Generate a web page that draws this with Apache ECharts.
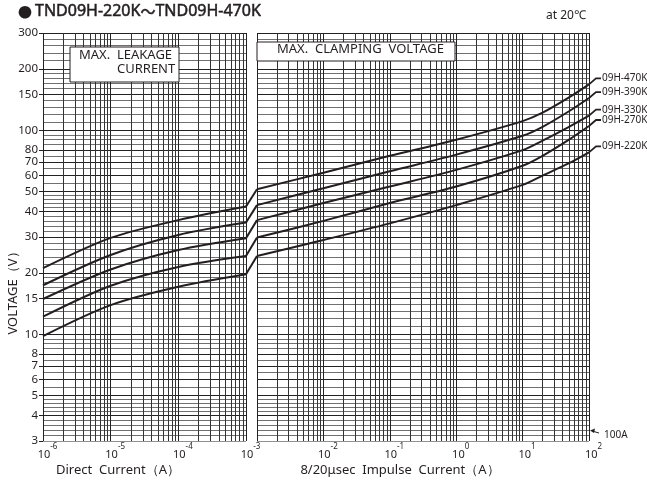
<!DOCTYPE html>
<html>
<head>
<meta charset="utf-8">
<script src="https://cdn.jsdelivr.net/npm/echarts@6/dist/echarts.min.js"></script>
<style>
html, body { margin: 0; padding: 0; background: #fff; }
#main { width: 647px; height: 482px; }
</style>
</head>
<body>
<div id="main"></div>
<script>
var ink = '#231f20';
var font = 'Noto Sans';

var names = ['09H-470K', '09H-390K', '09H-330K', '09H-270K', '09H-220K'];

// max. leakage current (direct current, A)
var dcCurrent = [1e-6, 1e-5, 1e-4, 1e-3];
var dc470 = [21.1, 29.7, 36.3, 42.3];
var dc390 = [17.4, 24.5, 30.7, 35.3];
var dc330 = [14.9, 20.8, 25.9, 29.6];
var dc270 = [12.2, 17.3, 21.4, 24.2];
var dc220 = [9.8, 13.9, 17.1, 19.7];

// max. clamping voltage (8/20us impulse current, A)
var ipCurrent = [1e-3, 1e-2, 1e-1, 1, 10, 20, 50, 100];
var ip470 = [51.4, 62, 75, 90, 111, 122, 145, 168];
var ip390 = [43, 52, 63, 76, 94, 104, 124, 144];
var ip330 = [36.3, 44, 53, 64, 80, 89, 104, 118];
var ip270 = [29.8, 36, 44, 53, 67, 75, 90, 105];
var ip220 = [24.2, 29, 35, 43, 54, 60, 69, 78];

var yLabels = [3, 4, 5, 6, 7, 8, 10, 15, 20, 30, 40, 50, 60, 70, 80, 100, 150, 200, 300];

var dcSets = [dc470, dc390, dc330, dc270, dc220];
var ipSets = [ip470, ip390, ip330, ip270, ip220];

function pairs(xs, ys) {
    var out = [];
    for (var i = 0; i < xs.length; i++) out.push([xs[i], ys[i]]);
    return out;
}

// graph paper
var ySteps = [[3, 5, 0.2], [5, 10, 0.5], [10, 20, 1], [20, 50, 2], [50, 100, 5], [100, 200, 10], [200, 300, 20]];

function paper(idx, d0, d1) {
    var x0 = Math.pow(10, d0), x1 = Math.pow(10, d1);
    var lines = [];
    ySteps.forEach(function (s) {
        for (var v = s[0]; v < s[1] + 1e-9; v += s[2]) {
            var r = Math.round(v * 10) / 10;
            var major = yLabels.indexOf(r) >= 0;
            lines.push({ coords: [[x0, r], [x1, r]], lineStyle: { color: major ? '#222' : '#707070', width: 1 } });
        }
    });
    for (var d = d0; d <= d1; d++) {
        for (var m = 1; m <= 9; m++) {
            if (d === d1 && m > 1) break;
            var x = m * Math.pow(10, d);
            lines.push({ coords: [[x, 3], [x, 300]], lineStyle: { color: m === 1 ? '#222' : '#333', width: 1 } });
        }
    }
    return {
        type: 'lines', coordinateSystem: 'cartesian2d', xAxisIndex: idx, yAxisIndex: idx,
        silent: true, animation: false, z: 1, data: lines,
        lineStyle: { color: '#333', width: 1, opacity: 1, curveness: 0 }
    };
}

function xLabel(v) {
    var e = Math.round(Math.log10(v));
    return '{b|10}{s|' + e + '}';
}
var xRich = {
    b: { fontSize: 11, fontFamily: font, color: ink, lineHeight: 17, verticalAlign: 'bottom' },
    s: { fontSize: 8, fontFamily: font, color: ink, lineHeight: 17, verticalAlign: 'top' }
};

var chart = echarts.init(document.getElementById('main'), null, { renderer: 'canvas' });

var series = [paper(0, -6, -3), paper(2, -3, 2)];
for (var k = 0; k < 5; k++) {
    series.push({
        type: 'line', name: names[k], xAxisIndex: 0, yAxisIndex: 0,
        data: pairs(dcCurrent, dcSets[k]), smooth: 0.3, showSymbol: false,
        lineStyle: { color: ink, width: 2 }, z: 5, animation: false
    });
    series.push({
        type: 'line', name: names[k], xAxisIndex: 1, yAxisIndex: 1,
        data: [[0, dcSets[k][dcSets[k].length - 1]], [1, ipSets[k][0]]],
        showSymbol: false, lineStyle: { color: ink, width: 2 }, z: 5, animation: false
    });
    series.push({
        type: 'line', name: names[k], xAxisIndex: 2, yAxisIndex: 2,
        data: pairs(ipCurrent, ipSets[k]), smooth: 0.3, showSymbol: false,
        lineStyle: { color: ink, width: 2 }, z: 5, animation: false
    });
}

var hiddenY = { type: 'log', logBase: 10, min: 3, max: 300, show: false };

chart.setOption({
    backgroundColor: '#fff',
    animation: false,
    grid: [
        { left: 43, top: 33, width: 203, height: 408, outerBoundsMode: 'none' },
        { left: 246, top: 33, width: 11, height: 408, outerBoundsMode: 'none' },
        { left: 257, top: 33, width: 332, height: 408, outerBoundsMode: 'none' }
    ],
    xAxis: [
        {
            type: 'log', logBase: 10, min: 1e-6, max: 1e-3, gridIndex: 0,
            axisLine: { show: false }, axisTick: { show: false }, splitLine: { show: false },
            axisLabel: { formatter: xLabel, rich: xRich, margin: 2, padding: [0, 0, 0, 9] }
        },
        { type: 'value', min: 0, max: 1, gridIndex: 1, show: false },
        {
            type: 'log', logBase: 10, min: 1e-3, max: 1e2, gridIndex: 2,
            axisLine: { show: false }, axisTick: { show: false }, splitLine: { show: false },
            axisLabel: { formatter: xLabel, rich: xRich, margin: 2, padding: [0, 0, 0, 9], showMinLabel: false }
        }
    ],
    yAxis: [
        {
            type: 'log', logBase: 10, min: 3, max: 300, gridIndex: 0,
            axisLine: { show: false }, splitLine: { show: false },
            axisTick: { show: true, length: 4, customValues: yLabels, lineStyle: { color: ink } },
            axisLabel: { customValues: yLabels, margin: 5, fontSize: 11.5, fontFamily: font, color: ink }
        },
        Object.assign({ gridIndex: 1 }, hiddenY),
        Object.assign({ gridIndex: 2 }, hiddenY)
    ],
    series: series
});

// annotations
var g = [];
g.push({
    type: 'text', left: 18, top: 3,
    style: {
        text: '{d|●}{t|TND09H-220K}{w|～}{t|TND09H-470K}',
        rich: {
            d: { fontSize: 14, fontFamily: 'Noto Sans CJK JP', fill: ink, padding: [0, 3, 0, 0] },
            t: { fontSize: 16, fontFamily: font, fill: ink, stroke: ink, lineWidth: 0.5 },
            w: { fontSize: 15, fontFamily: 'Noto Sans CJK JP', fill: ink, stroke: ink, lineWidth: 0.5 }
        }
    }
});
g.push({ type: 'text', left: 546, top: 10, style: { text: 'at 20℃', fontSize: 12, fontFamily: font, fill: ink } });
g.push({ type: 'rect', shape: { x: 70, y: 47, width: 109, height: 35 }, style: { fill: '#fff', stroke: ink, lineWidth: 1 }, z: 50 });
g.push({ type: 'text', left: 79, top: 49, z: 51, style: { text: 'MAX.  LEAKAGE', fontSize: 13, fontFamily: font, fill: ink } });
g.push({ type: 'text', left: 117, top: 63, z: 51, style: { text: 'CURRENT', fontSize: 13, fontFamily: font, fill: ink } });
g.push({ type: 'rect', shape: { x: 257, y: 42, width: 198, height: 19 }, style: { fill: '#fff', stroke: ink, lineWidth: 1 }, z: 50 });
g.push({ type: 'text', left: 277, top: 43, z: 51, style: { text: 'MAX.  CLAMPING  VOLTAGE', fontSize: 13, fontFamily: font, fill: ink } });
g.push({ type: 'text', x: 118, y: 470, style: { text: 'Direct  Current（A）', fontSize: 13, fontFamily: font, fill: ink, align: 'center', verticalAlign: 'middle' } });
g.push({ type: 'text', x: 400, y: 470, style: { text: '8/20μsec  Impulse  Current（A）', fontSize: 13, fontFamily: font, fill: ink, align: 'center', verticalAlign: 'middle' } });
g.push({ type: 'text', x: 13, y: 290, rotation: Math.PI / 2, style: { text: 'VOLTAGE（V）', fontSize: 13, fontFamily: font, fill: ink, align: 'center', verticalAlign: 'middle' } });

for (var j = 0; j < 5; j++) {
    var vals = ipSets[j];
    var p = chart.convertToPixel({ gridIndex: 2 }, [ipCurrent[ipCurrent.length - 1], vals[vals.length - 1]]);
    var ly = p[1] - 6;
    g.push({ type: 'polyline', shape: { points: [[p[0], p[1]], [p[0] + 7, ly], [p[0] + 12, ly]] }, style: { stroke: ink, lineWidth: 1.8, fill: null } });
    g.push({ type: 'text', x: p[0] + 13, y: ly, style: { text: names[j], fontSize: 10, fontFamily: font, fill: ink, verticalAlign: 'middle' } });
}
var corner = chart.convertToPixel({ gridIndex: 2 }, [100, 3]);
var ay = corner[1] - 10;
g.push({ type: 'line', shape: { x1: corner[0] + 3, y1: ay, x2: corner[0] + 10, y2: ay + 2 }, style: { stroke: ink, lineWidth: 1 } });
g.push({ type: 'polygon', shape: { points: [[corner[0] + 1, ay - 0.5], [corner[0] + 6, ay - 2.5], [corner[0] + 5, ay + 2]] }, style: { fill: ink } });
g.push({ type: 'text', x: corner[0] + 15, y: ay + 4, style: { text: '100A', fontSize: 10, fontFamily: font, fill: ink, verticalAlign: 'middle' } });

chart.setOption({ graphic: { elements: g } });
</script>
</body>
</html>
